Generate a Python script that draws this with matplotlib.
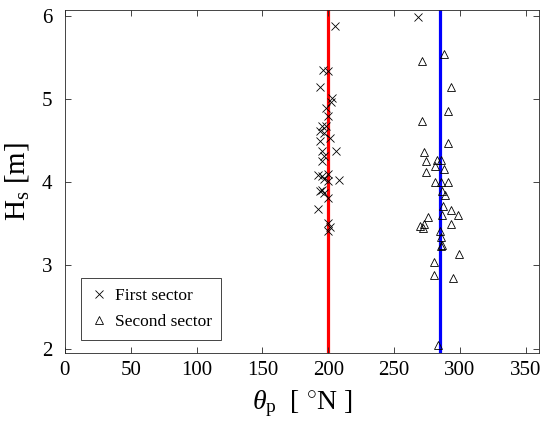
import matplotlib.pyplot as plt

plt.rcParams['font.family'] = ['Liberation Serif', 'DejaVu Serif']
plt.rcParams['mathtext.fontset'] = 'custom'
plt.rcParams['mathtext.rm'] = 'Liberation Serif'
plt.rcParams['mathtext.it'] = 'Liberation Serif:italic'

# Dados
first_dir = [205.5, 268.5, 196, 199.5, 194, 203, 202, 198, 199.5, 195, 198.5, 193.5, 197,
             194, 201, 195, 206, 196.5, 195, 197, 199.5, 208, 192, 195, 199.5, 195, 197,
             193.5, 200, 192, 200, 200, 201]
first_hs = [5.88, 5.98, 5.35, 5.34, 5.15, 5.01, 4.96, 4.89, 4.80, 4.68, 4.67, 4.62, 4.59,
            4.50, 4.53, 4.38, 4.37, 4.32, 4.26, 4.04, 4.02, 4.03, 4.09, 4.07, 4.10, 3.91, 3.87,
            3.89, 3.81, 3.68, 3.51, 3.41, 3.46]

second_dir = [288, 271, 293, 291, 271, 291, 273, 274, 283, 285.5, 281, 288, 274, 281.5, 286,
              291, 286.5, 289, 287, 293, 298.5, 286.5, 276, 293.5, 273, 270, 272, 285, 286,
              286.5, 286, 299, 280.5, 280.5, 295, 283.5]
second_hs = [5.54, 5.46, 5.14, 4.86, 4.73, 4.47, 4.36, 4.26, 4.27, 4.27, 4.20, 4.16, 4.12,
             4.00, 4.00, 4.00, 3.90, 3.85, 3.72, 3.67, 3.61, 3.61, 3.58, 3.50, 3.50, 3.47,
             3.45, 3.41, 3.34, 3.25, 3.23, 3.14, 3.04, 2.88, 2.85, 2.05]

mean_first = 200
mean_second = 285

fig = plt.figure(figsize=(5.41, 4.34), dpi=100)
ax = fig.add_axes([0.120, 0.187, 0.876, 0.790])

ax.axvline(mean_first, color='red', linewidth=2.3, zorder=1)
ax.axvline(mean_second, color='blue', linewidth=2.3, zorder=1)
ax.plot(first_dir, first_hs, 'x', color='black', markersize=6, markeredgewidth=0.6,
        label='First sector', zorder=2)
ax.plot(second_dir, second_hs, '^', color='black', markerfacecolor='none', markersize=6,
        markeredgewidth=0.6, label='Second sector', zorder=2)

ax.set_xlim(0, 360)
ax.set_ylim(1.95, 6.07)
ax.set_xticks(range(0, 351, 50))
ax.set_yticks([2, 3, 4, 5, 6])
ax.tick_params(direction='in', top=True, right=True, labelsize=15, length=4,
               width=0.6, color='#262626')
ax.tick_params(axis='x', pad=6)
ax.tick_params(axis='y', pad=9)
for s in ax.spines.values():
    s.set_color('#262626')
    s.set_linewidth(0.6)

ax.set_xlabel(r'$\mathit{\theta}_{\rm p}$  [ $^{\circ}$N ]', fontsize=20, labelpad=6)
ax.set_ylabel(r'H$_{\rm s}$ [m]', fontsize=21, labelpad=8)

leg = ax.legend(loc='lower left', bbox_to_anchor=(0.015, 0.012), fontsize=12.5,
                fancybox=False, edgecolor='#262626', framealpha=1, handlelength=1.0,
                handletextpad=0.4, borderpad=0.55, labelspacing=0.6, markerscale=0.85)
leg.get_frame().set_linewidth(0.6)

plt.savefig('out.png', dpi=100)
